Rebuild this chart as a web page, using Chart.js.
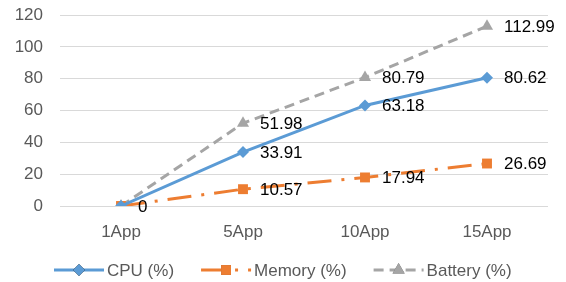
<!DOCTYPE html>
<html>
<head>
<meta charset="utf-8">
<script src="https://cdn.jsdelivr.net/npm/chart.js@4"></script>
<style>
  body { margin: 0; background: #fff; }
  #wrap { width: 566px; height: 282px; }
</style>
</head>
<body>
<div id="wrap"><canvas id="chart" width="566" height="282"></canvas></div>
<script>
const apps = ["1App", "5App", "10App", "15App"];
const cpu = [0, 33.91, 63.18, 80.62];
const memory = [0, 10.57, 17.94, 26.69];
const battery = [0, 51.98, 80.79, 112.99];
const seriesNames = ["CPU (%)", "Memory (%)", "Battery (%)"];
const yTicks = [0, 20, 40, 60, 80, 100, 120];

const textGrey = "#595959";
const fontFam = "'Liberation Sans', Arial, sans-serif";

// labels next to each point (only one "0" is shown at 1App, like the original)
const pointLabels = {
    id: "pointLabels",
    afterDatasetsDraw(chart) {
        const ctx = chart.ctx;
        ctx.save();
        ctx.font = "17px " + fontFam;
        ctx.fillStyle = "#000";
        ctx.textBaseline = "middle";
        ctx.textAlign = "left";
        chart.data.datasets.forEach((ds, i) => {
            const meta = chart.getDatasetMeta(i);
            meta.data.forEach((pt, j) => {
                const v = ds.data[j];
                if (v === 0 && i !== 1) return;
                ctx.fillText(String(v), pt.x + 17, pt.y + 1);
            });
        });
        ctx.restore();
    }
};

// excel-style legend: line sample with marker in the middle
const bottomLegend = {
    id: "bottomLegend",
    afterDraw(chart) {
        const ctx = chart.ctx;
        ctx.save();
        ctx.font = "17px " + fontFam;
        const sample = 50, gapText = 3, gapItem = 27;
        const items = chart.data.datasets.map(ds => ({ ds, w: ctx.measureText(ds.label).width }));
        let total = 0;
        items.forEach((it, k) => { total += sample + gapText + it.w + (k < items.length - 1 ? gapItem : 0); });
        let x = Math.round(chart.width / 2 - total / 2);
        const y = 270;
        items.forEach(it => {
            const ds = it.ds;
            ctx.strokeStyle = ds.borderColor;
            ctx.lineWidth = 3;
            ctx.setLineDash(ds.borderDash || []);
            ctx.beginPath();
            ctx.moveTo(x, y);
            ctx.lineTo(x + sample, y);
            ctx.stroke();
            ctx.setLineDash([]);
            Chart.helpers.drawPoint(ctx, {
                pointStyle: ds.pointStyle,
                radius: ds.pointRadius,
                borderWidth: 0,
                rotation: 0
            }, x + sample / 2, y);
            ctx.fillStyle = ds.backgroundColor;
            ctx.fill();
            ctx.fillStyle = textGrey;
            ctx.textBaseline = "middle";
            ctx.fillText(ds.label, x + sample + gapText, y + 1);
            x += sample + gapText + it.w + gapItem;
        });
        ctx.restore();
    }
};

new Chart(document.getElementById("chart"), {
    type: "line",
    data: {
        labels: apps,
        datasets: [
            {
                label: seriesNames[0],
                data: cpu,
                borderColor: "#5B9BD5",
                backgroundColor: "#5B9BD5",
                borderWidth: 3,
                pointStyle: "rectRot",
                pointRadius: 6,
                pointBorderWidth: 0
            },
            {
                label: seriesNames[1],
                data: memory,
                borderColor: "#ED7D31",
                backgroundColor: "#ED7D31",
                borderWidth: 3,
                borderDash: [24, 10, 3, 10],
                pointStyle: "rect",
                pointRadius: 7,
                pointBorderWidth: 0
            },
            {
                label: seriesNames[2],
                data: battery,
                borderColor: "#A5A5A5",
                backgroundColor: "#A5A5A5",
                borderWidth: 3,
                borderDash: [10, 6],
                pointStyle: "triangle",
                pointRadius: 7,
                pointBorderWidth: 0
            }
        ]
    },
    options: {
        responsive: false,
        animation: false,
        layout: { padding: { top: 15, right: 18, bottom: 36, left: 0 } },
        plugins: {
            legend: { display: false },
            tooltip: { enabled: false }
        },
        scales: {
            x: {
                offset: true,
                grid: { display: false, drawTicks: false },
                border: { display: false },
                ticks: { color: textGrey, font: { size: 17, family: fontFam }, padding: 16 },
                afterFit: s => { s.height = 40; }
            },
            y: {
                min: 0,
                max: 120,
                afterBuildTicks: s => { s.ticks = yTicks.map(v => ({ value: v })); },
                grid: { color: "#D9D9D9", lineWidth: 1, drawTicks: false },
                border: { display: false },
                ticks: { color: textGrey, font: { size: 17, family: fontFam }, padding: 17 },
                // keep the plot area where the original has it
                afterFit: s => { s.width = 60; s.paddingTop = 0; s.paddingBottom = 0; }
            }
        }
    },
    plugins: [pointLabels, bottomLegend]
});
</script>
</body>
</html>
